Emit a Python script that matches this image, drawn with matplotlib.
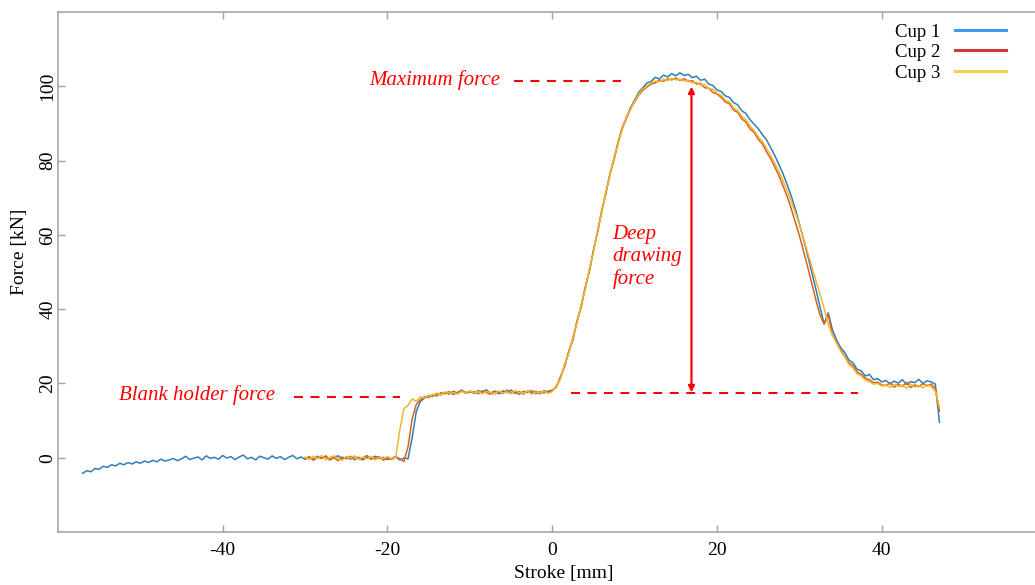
import matplotlib
matplotlib.use('Agg')  # no display, just write the png
import matplotlib.pyplot as plt
from matplotlib.lines import Line2D
import numpy as np

plt.rcParams['font.family'] = ['Liberation Serif', 'DejaVu Serif']
plt.rcParams['axes.unicode_minus'] = False  # plain hyphen on negative ticks

# Stroke positions [mm], sampled every 0.5 mm
stroke_cup1 = np.arange(-57.0, 47.01, 0.5)
stroke_cup23 = np.arange(-30.0, 47.01, 0.5)

# Force readings [kN]
force_cup1 = [
    -4.2, -3.5, -3.8, -2.9, -3.1, -2.3, -2.6, -1.9, -2.2, -1.5, -1.9, -1.3, -1.7, -1.1, -1.5,
    -0.9, -1.3, -0.7, -1.1, -0.4, -0.9, -0.6, -0.2, -0.8, -0.3, 0.4, -0.5, -0.1, 0.2, -0.6, 0.5, -0.2, 0.1, -0.4, 0.6,
    -0.1, 0.3, -0.5, 0.2, 0.7, -0.3, 0.1, -0.6, 0.4, 0.0, -0.4, 0.5, -0.2, 0.3, -0.5, 0.1, 0.6, -0.3, 0.2, -0.4,
    0.2, -0.5, 0.4, -0.1, 0.3, -0.6, 0.1, 0.5, -0.3, 0.2, -0.4, 0.3, -0.1, -0.6, 0.2, -0.3, 0.4, -0.2, 0.1, -0.5,
    -0.2, 0.3, -0.6, -0.1, -0.3, 5.5, 12.5, 15.2, 16.0, 16.8,
    16.5, 17.3, 16.9, 17.6, 17.1, 17.9, 17.4, 18.2, 17.5, 17.9,
    17.3, 18.1, 17.6, 18.3, 17.4, 17.9, 17.2, 18.0, 17.5, 18.2, 17.3, 17.8, 17.1, 18.0, 17.4, 17.9, 17.2, 18.1, 17.6, 18.0,
    19.2, 21.5, 24.8, 28.3, 32.0, 36.5, 40.8, 45.6, 50.4, 55.6, 60.9, 66.2, 71.3, 76.1, 80.6, 85.0, 88.6, 91.6, 94.2, 96.3,
    98.4, 99.6, 100.9, 101.3, 102.4, 101.9, 103.0, 102.5, 103.4, 102.8, 103.6, 102.9, 103.2, 102.3, 102.7, 101.6, 101.9, 100.6, 100.2, 99.0,
    98.6, 97.4, 97.0, 95.6, 95.0, 93.4, 92.7, 91.0, 89.8, 88.6, 87.0, 85.6, 83.5, 81.4, 79.0, 76.5, 73.6, 70.5, 67.0, 63.0,
    58.8, 54.5, 50.0, 45.4, 40.6, 36.0, 39.0, 34.5, 31.8, 29.6, 28.4, 26.3, 25.6, 23.8, 23.4, 22.0, 22.4, 21.0, 21.3, 20.4,
    20.8, 19.9, 20.6, 20.1, 21.0, 19.7, 20.5, 20.2, 21.1, 20.0, 20.7, 20.4, 19.8, 9.5,
]

force_cup2 = [
    -0.4, 0.3, -0.7, 0.1, -0.2, 0.5, -0.5, 0.0, -0.8, 0.2, -0.3, 0.4, -0.6, 0.1, -0.2, 0.6, -0.4, -0.1, 0.3, -0.7, 0.0,
    -0.5, 0.2, -0.3, -1.0, 3.0, 10.5, 14.4, 15.6, 16.4, 16.2,
    17.0, 16.6, 17.5, 17.2, 17.8, 17.0, 17.6, 18.1, 17.3, 17.7,
    17.8, 17.2, 18.0, 17.5, 17.1, 17.9, 17.6, 17.3, 18.2, 17.4, 17.7, 17.0, 17.9, 17.5, 18.1, 17.2, 17.8, 17.4, 17.9, 18.2,
    19.0, 21.8, 24.5, 28.6, 31.7, 36.8, 40.5, 45.9, 50.1, 55.9, 60.6, 66.5, 71.0, 76.4, 80.3, 84.8, 88.9, 91.3, 93.9, 95.8,
    97.6, 98.9, 99.8, 100.6, 100.9, 101.6, 101.3, 102.0, 101.7, 102.2, 101.6, 102.0, 101.3, 101.5, 100.6, 100.8, 99.6, 99.5, 98.3, 97.9,
    97.0, 95.8, 95.3, 93.6, 93.0, 91.2, 90.4, 88.5, 87.6, 85.7, 84.5, 82.4, 80.6, 78.3, 76.0, 73.2, 70.4, 67.1, 63.5, 59.8,
    55.6, 51.4, 47.0, 42.5, 38.4, 36.0, 38.6, 33.2, 31.0, 29.1, 27.4, 25.6, 24.8, 23.1, 22.5, 21.4, 21.0, 20.2, 20.3, 19.6,
    19.4, 20.1, 19.0, 19.8, 19.2, 20.3, 18.9, 19.6, 19.1, 20.0, 19.3, 19.8, 18.6, 12.5,
]

force_cup3 = [
    0.2, -0.5, 0.4, -0.2, 0.6, -0.6, 0.1, 0.5, -0.3, -0.7, 0.3, -0.1, 0.5, -0.5, 0.2, -0.3, 0.4, -0.6, 0.1, -0.2, 0.3,
    -0.3, 0.1, 7.5, 13.2, 14.1, 15.8, 15.2, 16.4, 16.0, 16.7,
    16.8, 17.4, 16.9, 17.7, 17.3, 17.6, 17.1, 17.8, 17.4, 18.0,
    17.5, 17.9, 17.2, 17.8, 17.6, 17.0, 18.0, 17.4, 17.7, 17.2, 18.1, 17.5, 17.3, 17.9, 17.1, 17.7, 17.5, 17.9, 17.3, 17.8,
    19.4, 21.2, 25.1, 28.0, 32.4, 36.2, 41.1, 45.3, 50.8, 55.3, 61.2, 65.9, 71.6, 75.8, 80.9, 84.6, 88.3, 91.8, 93.7, 96.0,
    97.9, 99.3, 100.1, 100.9, 101.4, 101.2, 101.9, 101.5, 102.1, 101.7, 101.9, 101.4, 101.6, 100.9, 101.1, 100.3, 100.5, 99.4, 99.2, 98.1,
    97.6, 96.3, 95.8, 94.2, 93.5, 91.9, 91.0, 89.3, 88.1, 86.4, 85.2, 83.3, 81.4, 79.3, 77.1, 74.6, 71.9, 69.0, 66.0, 62.8,
    59.0, 55.2, 51.5, 47.8, 44.0, 40.2, 36.0, 33.0, 30.9, 28.8, 27.2, 25.1, 24.2, 22.6, 22.0, 20.9, 20.5, 19.8, 20.0, 19.3,
    19.6, 18.9, 19.8, 19.2, 19.5, 18.7, 19.9, 19.0, 19.4, 18.8, 19.7, 19.1, 17.9, 13.5,
]

cup_labels = ['Cup 1', 'Cup 2', 'Cup 3']
curve_colors = ['#2f7fb8', '#d9621f', '#efb72e']
legend_colors = ['#3d9bf0', '#d0393b', '#f6cf45']

# Levels marked on the chart [kN] and stroke where the arrow sits [mm]
max_force = 101.4
blank_holder_force = 16.4
drawing_base = 17.3
arrow_stroke = 16.9

fig = plt.figure(figsize=(10.35, 5.85), dpi=100)
ax = fig.add_axes([0.056, 0.0906, 0.944, 0.889])

ax.plot(stroke_cup1, force_cup1, color=curve_colors[0], lw=1.1)
ax.plot(stroke_cup23, force_cup2, color=curve_colors[1], lw=1.1)
ax.plot(stroke_cup23, force_cup3, color=curve_colors[2], lw=1.1)

ax.set_xlim(-60, 58.6)
ax.set_ylim(-20, 120)
ax.set_xticks([-40, -20, 0, 20, 40])
ax.set_yticks([0, 20, 40, 60, 80, 100])

# grey frame, inward ticks, y labels turned on their side
for side in ['left', 'bottom', 'top']:
    ax.spines[side].set_color('#a0a0a0')
    ax.spines[side].set_linewidth(1.1)
ax.spines['right'].set_visible(False)
ax.tick_params(direction='in', length=5, width=1.0, color='#a0a0a0',
               labelsize=14, top=True)
ax.tick_params(axis='y', pad=1)
ax.tick_params(axis='x', pad=7)
for lab in ax.get_yticklabels():
    lab.set_rotation(90)
    lab.set_va('center')

ax.set_xlabel('Stroke [mm]', fontsize=14)
ax.set_ylabel('Force [kN]', fontsize=14)
ax.xaxis.set_label_coords(0.518, -0.064)
ax.yaxis.set_label_coords(-0.031, 0.538)

# annotations in red
red = '#ff0000'
dash = (0, (4.3, 3.6))
note_font = dict(color=red, fontsize=15, style='italic', va='center')

ax.plot([-4.6, 8.4], [max_force, max_force], color=red, lw=1.5, linestyle=dash)
ax.text(-6.3, max_force + 0.3, 'Maximum force', ha='right', **note_font)

ax.plot([-31.3, -18.5], [blank_holder_force, blank_holder_force], color=red, lw=1.5, linestyle=dash)
ax.text(-33.7, blank_holder_force + 0.4, 'Blank holder force', ha='right', **note_font)

ax.plot([2.3, 37.1], [drawing_base, drawing_base], color=red, lw=1.5, linestyle=dash)
ax.annotate('', xy=(arrow_stroke, max_force - 1.5), xytext=(arrow_stroke, drawing_base + 0.3),
            arrowprops=dict(arrowstyle='<|-|>', color=red, lw=1.6,
                            mutation_scale=9, shrinkA=0, shrinkB=0))
ax.text(7.3, 54.1, 'Deep\ndrawing\nforce', ha='left', linespacing=1.2, **note_font)

# legend: label first, then a short line in the cup colour
handles = [Line2D([], [], color=c, lw=2.2) for c in legend_colors]
ax.legend(handles, cup_labels, loc='upper right', bbox_to_anchor=(0.972, 0.960),
          bbox_transform=fig.transFigure, frameon=False, markerfirst=False,
          fontsize=13.5, handlelength=2.7, handletextpad=0.8, labelspacing=0.18,
          borderpad=0, borderaxespad=0)

fig.savefig('out.png', dpi=100)
plt.close(fig)
